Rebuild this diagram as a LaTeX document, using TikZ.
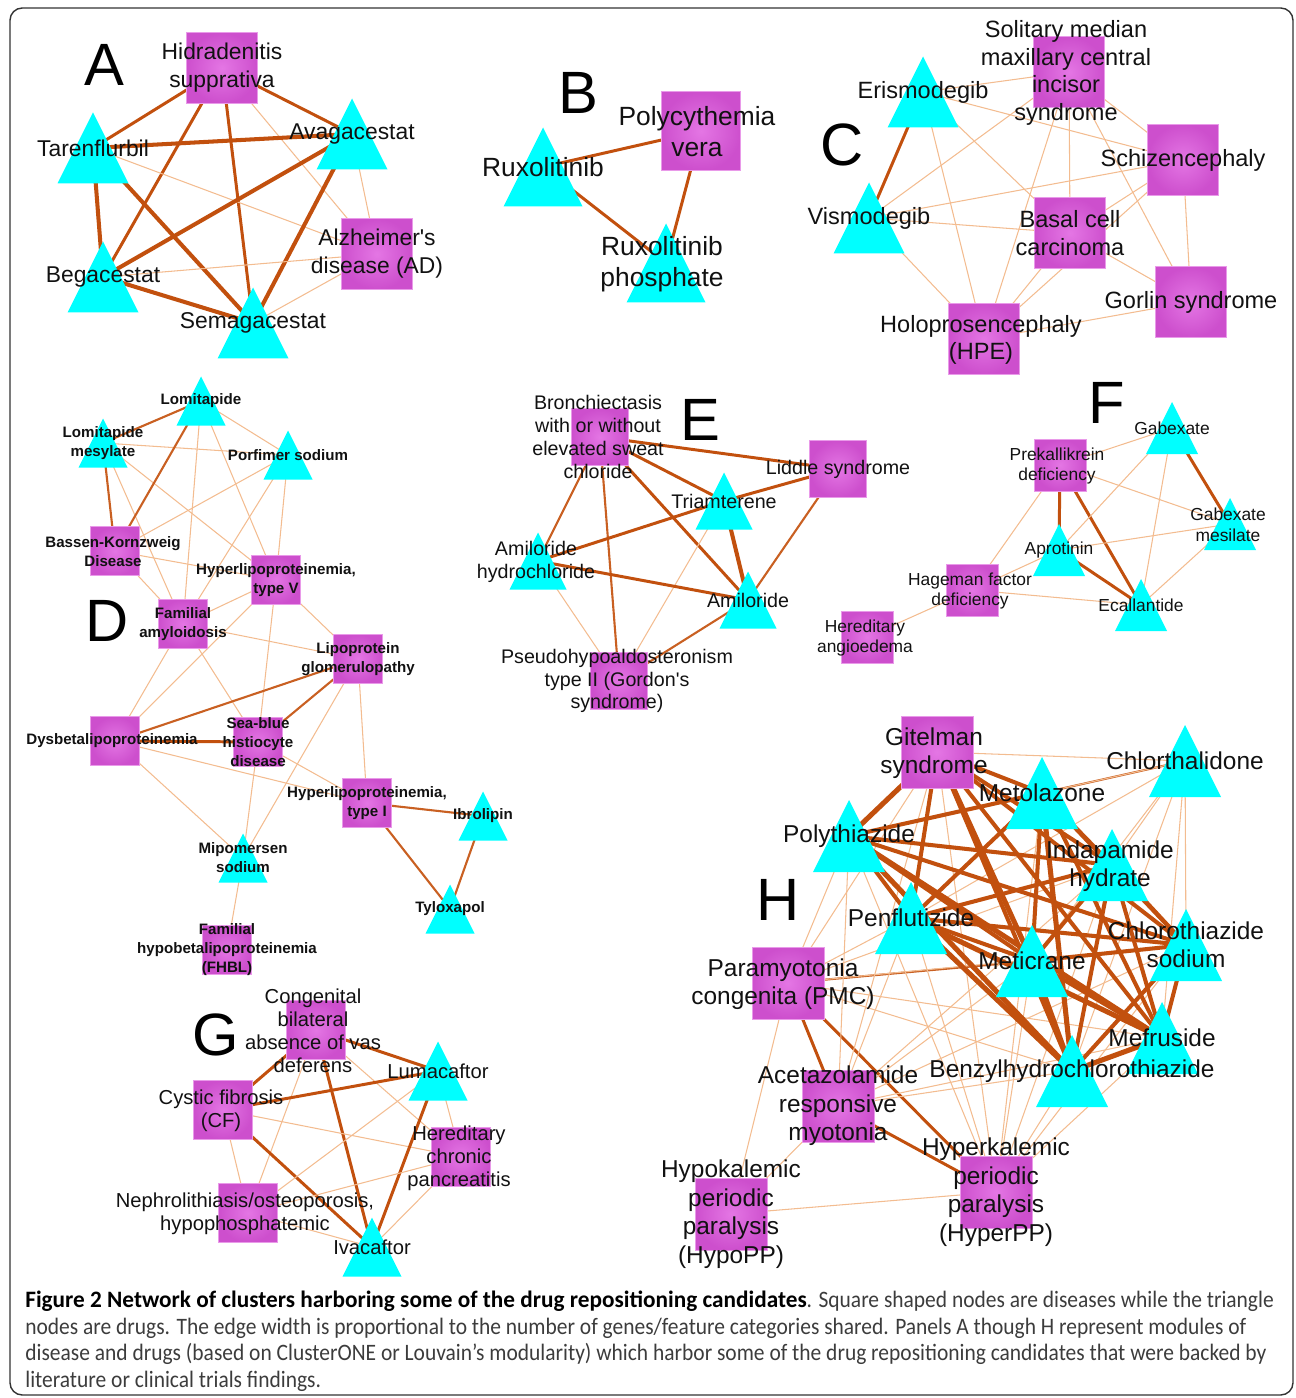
\documentclass[tikz,border=0pt]{standalone}
\usepackage{fontspec}
\setmainfont{Liberation Sans}
\newfontfamily\capfont[FakeStretch=0.912]{Carlito}
\newfontfamily\capbold[FakeStretch=0.987]{Carlito}
\usepackage{xcolor}
\usepackage{tikz}
\usetikzlibrary{backgrounds}
\definecolor{Drug}{HTML}{00FFFF}
\definecolor{DisIn}{HTML}{E476E4}
\definecolor{DisOut}{HTML}{CD4FCD}
\definecolor{DisLine}{HTML}{E99AE9}
\definecolor{EdgeDark}{HTML}{C2500E}
\definecolor{EdgeLight}{HTML}{F3BC90}
\definecolor{Ink}{HTML}{111111}
\definecolor{CapInk}{HTML}{3C3C3C}
\tikzset{
  dis/.style={rectangle, inner sep=0pt, minimum size=#1*0.02cm, draw=DisLine, line width=0.4pt, inner color=DisIn, outer color=DisOut},
  drug/.style={rectangle, inner sep=0pt, minimum size=#1*0.02cm,
    path picture={\fill[Drug] (path picture bounding box.south west) -- (path picture bounding box.south east) -- (path picture bounding box.north) -- cycle;}},
  lbl/.style={inner sep=0pt, align=center, text=Ink},
  tA/.style={lbl, font=\fontsize{13}{15.9}\selectfont},
  tB/.style={lbl, font=\fontsize{15}{17.6}\selectfont},
  tC/.style={lbl, font=\fontsize{13.4}{15.7}\selectfont},
  tD/.style={lbl, font=\bfseries\fontsize{8.6}{10.8}\selectfont},
  tE/.style={lbl, font=\fontsize{11.2}{13}\selectfont},
  tF/.style={lbl, font=\fontsize{9.9}{11.9}\selectfont},
  tG/.style={lbl, font=\fontsize{11.5}{13}\selectfont},
  tH/.style={lbl, font=\fontsize{13.9}{16.2}\selectfont},
  panel/.style={inner sep=0pt, font=\fontsize{34}{34}\selectfont},
  w1/.style={draw=EdgeLight, line width=0.6pt},
  w2/.style={draw=EdgeDark!85!EdgeLight, line width=1.2pt},
  w3/.style={draw=EdgeDark, line width=1.7pt},
  w4/.style={draw=EdgeDark, line width=2.3pt},
  w5/.style={draw=EdgeDark, line width=2.9pt}
}
\begin{document}
\begin{tikzpicture}[x=0.02cm,y=-0.02cm]
  \useasboundingbox (0,0) rectangle (1295,1398);
  \draw[black!80, line width=0.8pt, rounded corners=7pt] (10,8) rectangle (1293,1395);

  % A
  \node[dis=71] (hid) at (222,68) {};
  \node[drug=71] (tar) at (93,148) {};
  \node[drug=71] (ava) at (352,134) {};
  \node[dis=71] (alz) at (377,254) {};
  \node[drug=71] (beg) at (103,277) {};
  \node[drug=71] (sem) at (253,323) {};
  % B
  \node[dis=79] (pcv) at (701,131) {};
  \node[drug=79] (rux) at (543,167) {};
  \node[drug=79] (rxp) at (666,263) {};
  % C
  \node[dis=71] (smc) at (1069,72) {};
  \node[drug=71] (eri) at (923,92) {};
  \node[drug=71] (vis) at (869,218) {};
  \node[dis=71] (sch) at (1183,160) {};
  \node[dis=71] (bcc) at (1070,233) {};
  \node[dis=71] (gor) at (1191,302) {};
  \node[dis=71] (hpe) at (984,339) {};
  % D
  \node[drug=49] (lom) at (201,401) {};
  \node[drug=49] (lmm) at (103,443) {};
  \node[drug=49] (por) at (288,455) {};
  \node[dis=49] (bkd) at (115,551) {};
  \node[dis=49] (hl5) at (276,580) {};
  \node[dis=49] (fam) at (183,624) {};
  \node[dis=49] (lgp) at (358,659) {};
  \node[dis=49] (dys) at (115,741) {};
  \node[dis=49] (sbh) at (258,742) {};
  \node[dis=49] (hl1) at (367,803) {};
  \node[drug=49] (ibr) at (483,816) {};
  \node[drug=49] (tyl) at (450,909) {};
  \node[drug=49] (mip) at (243,858) {};
  \node[dis=49] (fhb) at (227,950) {};
  % E
  \node[dis=57] (bro) at (600,437) {};
  \node[dis=57] (lid) at (838,469) {};
  \node[drug=57] (tri) at (724,501) {};
  \node[drug=57] (amh) at (538,561) {};
  \node[drug=57] (ami) at (748,600) {};
  \node[dis=57] (pse) at (619,681) {};
  % F
  \node[dis=52] (pkd) at (1060,465) {};
  \node[drug=52] (gab) at (1172,428) {};
  \node[drug=52] (gbm) at (1230,524) {};
  \node[drug=52] (apr) at (1059,550) {};
  \node[dis=52] (hfd) at (972,590) {};
  \node[drug=52] (eca) at (1141,605) {};
  \node[dis=52] (hae) at (867,637) {};
  % G
  \node[dis=59] (cba) at (316,1030) {};
  \node[drug=59] (lum) at (438,1071) {};
  \node[dis=59] (cyf) at (223,1110) {};
  \node[dis=59] (hcp) at (461,1157) {};
  \node[dis=59] (nep) at (248,1213) {};
  \node[drug=59] (iva) at (372,1247) {};
  % H
  \node[dis=72] (git) at (937,752) {};
  \node[drug=72] (chl) at (1185,761) {};
  \node[drug=72] (met) at (1042,793) {};
  \node[drug=72] (pol) at (849,836) {};
  \node[drug=72] (ind) at (1112,865) {};
  \node[drug=72] (pen) at (911,918) {};
  \node[drug=72] (cts) at (1186,945) {};
  \node[drug=72] (mtc) at (1032,961) {};
  \node[drug=72] (mef) at (1162,1038) {};
  \node[drug=72] (bzl) at (1072,1071) {};
  \node[dis=72] (pmc) at (788,983) {};
  \node[dis=72] (ace) at (838,1106) {};
  \node[dis=72] (hyp) at (731,1214) {};
  \node[dis=72] (hyk) at (996,1192) {};

  \begin{pgfonlayer}{background}
    \path (hid.center) edge[w3] (tar.center) edge[w3] (ava.center) edge[w3] (beg.center) edge[w3] (sem.center) edge[w1] (alz.center);
    \path (tar.center) edge[w4] (ava.center) edge[w4] (beg.center) edge[w4] (sem.center) edge[w1] (alz.center);
    \path (ava.center) edge[w4] (beg.center) edge[w4] (sem.center) edge[w1] (alz.center);
    \path (beg.center) edge[w4] (sem.center) edge[w1] (alz.center);
    \path (sem.center) edge[w1] (alz.center);

    \path (rux.center) edge[w3] (pcv.center) edge[w3] (rxp.center);
    \path (pcv.center) edge[w3] (rxp.center);

    \path (eri.center) edge[w3] (vis.center) edge[w1] (smc.center) edge[w1] (sch.center) edge[w1] (bcc.center) edge[w1] (hpe.center);
    \path (vis.center) edge[w1] (smc.center) edge[w1] (sch.center) edge[w1] (bcc.center) edge[w1] (hpe.center);
    \path (smc.center) edge[w1] (sch.center) edge[w1] (bcc.center) edge[w1] (gor.center) edge[w1] (hpe.center);
    \path (sch.center) edge[w1] (bcc.center) edge[w1] (hpe.center) edge[w1] (gor.center);
    \path (bcc.center) edge[w1] (gor.center) edge[w1] (hpe.center);
    \path (gor.center) edge[w1] (hpe.center);

    \path (lmm.center) edge[w2] (lom.center) edge[w2] (bkd.center) edge[w1] (por.center) edge[w1] (fam.center) edge[w1] (hl5.center);
    \path (lom.center) edge[w2] (bkd.center) edge[w1] (por.center) edge[w1] (fam.center) edge[w1] (hl5.center);
    \path (por.center) edge[w1] (bkd.center) edge[w1] (hl5.center) edge[w1] (fam.center);
    \path (bkd.center) edge[w1] (hl5.center) edge[w1] (fam.center);
    \path (hl5.center) edge[w1] (fam.center) edge[w1] (lgp.center) edge[w1] (dys.center) edge[w1] (sbh.center);
    \path (fam.center) edge[w1] (lgp.center) edge[w1] (dys.center) edge[w1] (sbh.center);
    \path (lgp.center) edge[w2] (dys.center) edge[w2] (sbh.center) edge[w1] (hl1.center) edge[w1] (mip.center);
    \path (dys.center) edge[w3] (sbh.center) edge[w1] (hl1.center) edge[w1] (mip.center);
    \path (sbh.center) edge[w1] (hl1.center) edge[w1] (mip.center);
    \path (hl1.center) edge[w2] (ibr.center) edge[w2] (tyl.center);
    \path (ibr.center) edge[w2] (tyl.center);
    \path (mip.center) edge[w1] (fhb.center);

    \path (bro.center) edge[w3] (lid.center) edge[w3] (tri.center) edge[w3] (ami.center) edge[w2] (amh.center) edge[w2] (pse.center);
    \path (lid.center) edge[w3] (tri.center) edge[w2] (ami.center);
    \path (tri.center) edge[w3] (amh.center) edge[w4] (ami.center) edge[w1] (pse.center);
    \path (amh.center) edge[w3] (ami.center) edge[w1] (pse.center);
    \path (ami.center) edge[w2] (pse.center);

    \path (pkd.center) edge[w1] (gab.center) edge[w1] (gbm.center) edge[w3] (apr.center) edge[w3] (eca.center) edge[w1] (hfd.center);
    \path (gab.center) edge[w3] (gbm.center) edge[w1] (apr.center) edge[w1] (eca.center);
    \path (gbm.center) edge[w1] (apr.center) edge[w1] (eca.center);
    \path (apr.center) edge[w3] (eca.center) edge[w1] (hfd.center);
    \path (hfd.center) edge[w1] (eca.center) edge[w1] (hae.center);

    \path (cba.center) edge[w3] (lum.center) edge[w3] (cyf.center) edge[w3] (iva.center) edge[w1] (hcp.center) edge[w1] (nep.center);
    \path (cyf.center) edge[w3] (lum.center) edge[w3] (iva.center) edge[w1] (hcp.center) edge[w1] (nep.center);
    \path (lum.center) edge[w3] (iva.center) edge[w1] (hcp.center) edge[w1] (nep.center);
    \path (hcp.center) edge[w1] (iva.center) edge[w1] (nep.center);
    \path (nep.center) edge[w1] (iva.center);

    \path (chl.center) edge[w1] (git.center) edge[w2] (met.center) edge[w1] (ind.center) edge[w1] (pen.center) edge[w1] (cts.center) edge[w1] (mtc.center) edge[w1] (mef.center) edge[w1] (bzl.center) edge[w1] (pol.center);
    \path (pmc.center) edge[w1] (pol.center) edge[w1] (pen.center) edge[w2] (mtc.center) edge[w1] (cts.center) edge[w1] (mef.center) edge[w1] (bzl.center) edge[w1] (ind.center) edge[w1] (git.center) edge[w3] (ace.center) edge[w3] (hyk.center) edge[w1] (hyp.center);
    \path (ace.center) edge[w1] (pol.center) edge[w1] (pen.center) edge[w1] (mtc.center) edge[w1] (cts.center) edge[w1] (mef.center) edge[w1] (bzl.center) edge[w1] (git.center) edge[w1] (ind.center) edge[w3] (hyk.center) edge[w1] (hyp.center);
    \path (hyk.center) edge[w1] (pol.center) edge[w1] (pen.center) edge[w1] (git.center) edge[w1] (mtc.center) edge[w1] (met.center) edge[w1] (cts.center) edge[w1] (mef.center) edge[w1] (bzl.center) edge[w1] (ind.center) edge[w1] (hyp.center);
    \path (git.center) edge[w5] (pol.center) edge[w4] (met.center) edge[w4] (ind.center) edge[w4] (pen.center) edge[w4] (cts.center) edge[w5] (mtc.center) edge[w4] (mef.center) edge[w4] (bzl.center);
    \path (pol.center) edge[w4] (met.center) edge[w4] (ind.center) edge[w4] (pen.center) edge[w4] (cts.center) edge[w4] (mtc.center) edge[w5] (mef.center) edge[w5] (bzl.center);
    \path (met.center) edge[w4] (ind.center) edge[w4] (pen.center) edge[w4] (cts.center) edge[w4] (mtc.center) edge[w4] (mef.center) edge[w5] (bzl.center);
    \path (ind.center) edge[w4] (pen.center) edge[w4] (cts.center) edge[w4] (mtc.center) edge[w4] (mef.center) edge[w4] (bzl.center);
    \path (pen.center) edge[w4] (cts.center) edge[w4] (mtc.center) edge[w5] (mef.center) edge[w5] (bzl.center);
    \path (cts.center) edge[w4] (mtc.center) edge[w4] (mef.center) edge[w4] (bzl.center);
    \path (mtc.center) edge[w4] (mef.center) edge[w5] (bzl.center);
    \path (mef.center) edge[w5] (bzl.center);
  \end{pgfonlayer}

  \node[panel] (pA) at (104,65) {A};
  \node[tA] (hid-t) at (hid) {Hidradenitis\\supprativa};
  \node[tA] (tar-t) at (tar) {Tarenflurbil};
  \node[tA] (ava-t) at (ava) {Avagacestat};
  \node[tA] (alz-t) at (alz) {Alzheimer\textquotesingle s\\disease (AD)};
  \node[tA] (beg-t) at (beg) {Begacestat};
  \node[tA] (sem-t) at (sem) {Semagacestat};

  \node[panel] (pB) at (578,93) {B};
  \node[tB] (pcv-t) at (697,132) {Polycythemia\\vera};
  \node[tB] (rux-t) at (rux) {Ruxolitinib};
  \node[tB] (rxp-t) at (662,264) {Ruxolitinib\\phosphate};

  \node[panel] (pC) at (842,145) {C};
  \node[tC] (smc-t) at (1066,73) {Solitary median\\maxillary central\\incisor\\syndrome};
  \node[tC] (eri-t) at (eri) {Erismodegib};
  \node[tC] (vis-t) at (vis) {Vismodegib};
  \node[tC] (sch-t) at (sch) {Schizencephaly};
  \node[tC] (bcc-t) at (bcc) {Basal cell\\carcinoma};
  \node[tC] (gor-t) at (gor) {Gorlin syndrome};
  \node[tC] (hpe-t) at (981,340) {Holoprosencephaly\\(HPE)};

  \node[panel] (pD) at (107,621) {D};
  \node[tD] (lom-t) at (lom) {Lomitapide};
  \node[tD] (lmm-t) at (lmm) {Lomitapide\\mesylate};
  \node[tD] (por-t) at (por) {Porfimer sodium};
  \node[tD] (bkd-t) at (113,552) {Bassen-Kornzweig\\Disease};
  \node[tD] (hl5-t) at (hl5) {Hyperlipoproteinemia,\\type V};
  \node[tD] (fam-t) at (fam) {Familial\\amyloidosis};
  \node[tD] (lgp-t) at (lgp) {Lipoprotein\\glomerulopathy};
  \node[tD] (dys-t) at (112,741) {Dysbetalipoproteinemia};
  \node[tD] (sbh-t) at (sbh) {Sea-blue\\histiocyte\\disease};
  \node[tD] (hl1-t) at (hl1) {Hyperlipoproteinemia,\\type I};
  \node[tD] (ibr-t) at (ibr) {Ibrolipin};
  \node[tD] (tyl-t) at (tyl) {Tyloxapol};
  \node[tD] (mip-t) at (mip) {Mipomersen\\sodium};
  \node[tD] (fhb-t) at (fhb) {Familial\\hypobetalipoproteinemia\\(FHBL)};

  \node[panel] (pE) at (700,420) {E};
  \node[tE] (bro-t) at (598,437) {Bronchiectasis\\with or without\\elevated sweat\\chloride};
  \node[tE] (lid-t) at (lid) {Liddle syndrome};
  \node[tE] (tri-t) at (tri) {Triamterene};
  \node[tE] (amh-t) at (536,562) {Amiloride\\hydrochloride};
  \node[tE] (ami-t) at (ami) {Amiloride};
  \node[tE] (pse-t) at (617,681) {Pseudohypoaldosteronism\\type II (Gordon\textquotesingle s\\syndrome)};

  \node[panel] (pF) at (1107,403) {F};
  \node[tF] (pkd-t) at (1057,466) {Prekallikrein\\deficiency};
  \node[tF] (gab-t) at (gab) {Gabexate};
  \node[tF] (gbm-t) at (1228,525) {Gabexate\\mesilate};
  \node[tF] (apr-t) at (apr) {Aprotinin};
  \node[tF] (hfd-t) at (970,591) {Hageman factor\\deficiency};
  \node[tF] (eca-t) at (eca) {Ecallantide};
  \node[tF] (hae-t) at (865,638) {Hereditary\\angioedema};

  \node[panel] (pG) at (216,1035) {G};
  \node[tG] (cba-t) at (313,1031) {Congenital\\bilateral\\absence of vas\\deferens};
  \node[tG] (lum-t) at (lum) {Lumacaftor};
  \node[tG] (cyf-t) at (221,1111) {Cystic fibrosis\\(CF)};
  \node[tG] (hcp-t) at (459,1158) {Hereditary\\chronic\\pancreatitis};
  \node[tG] (nep-t) at (245,1214) {Nephrolithiasis/osteoporosis,\\hypophosphatemic};
  \node[tG] (iva-t) at (iva) {Ivacaftor};

  \node[panel] (pH) at (778,900) {H};
  \node[tH] (git-t) at (934,753) {Gitelman\\syndrome};
  \node[tH] (chl-t) at (chl) {Chlorthalidone};
  \node[tH] (met-t) at (met) {Metolazone};
  \node[tH] (pol-t) at (pol) {Polythiazide};
  \node[tH] (ind-t) at (1110,866) {Indapamide\\hydrate};
  \node[tH] (pen-t) at (pen) {Penflutizide};
  \node[tH] (cts-t) at (cts) {Chlorothiazide\\sodium};
  \node[tH] (mtc-t) at (mtc) {Meticrane};
  \node[tH] (mef-t) at (mef) {Mefruside};
  \node[tH] (bzl-t) at (bzl) {Benzylhydrochlorothiazide};
  \node[tH] (pmc-t) at (783,984) {Paramyotonia\\congenita (PMC)};
  \node[tH] (ace-t) at (ace) {Acetazolamide\\responsive\\myotonia};
  \node[tH] (hyp-t) at (hyp) {Hypokalemic\\periodic\\paralysis\\(HypoPP)};
  \node[tH] (hyk-t) at (hyk) {Hyperkalemic\\periodic\\paralysis\\(HyperPP)};

  \node[anchor=north west, inner sep=0pt, align=left, text=CapInk, font=\capfont\fontsize{13.4}{15.1}\selectfont] (cap) at (25,1291)
    {\textcolor{black}{\capbold\bfseries Figure 2 Network of clusters harboring some of the drug repositioning candidates}. Square shaped nodes are diseases while the triangle\\
     nodes are drugs. The edge width is proportional to the number of genes/feature categories shared. Panels A though H represent modules of\\
     disease and drugs (based on ClusterONE or Louvain’s modularity) which harbor some of the drug repositioning candidates that were backed by\\
     literature or clinical trials findings.};
\end{tikzpicture}
\end{document}
